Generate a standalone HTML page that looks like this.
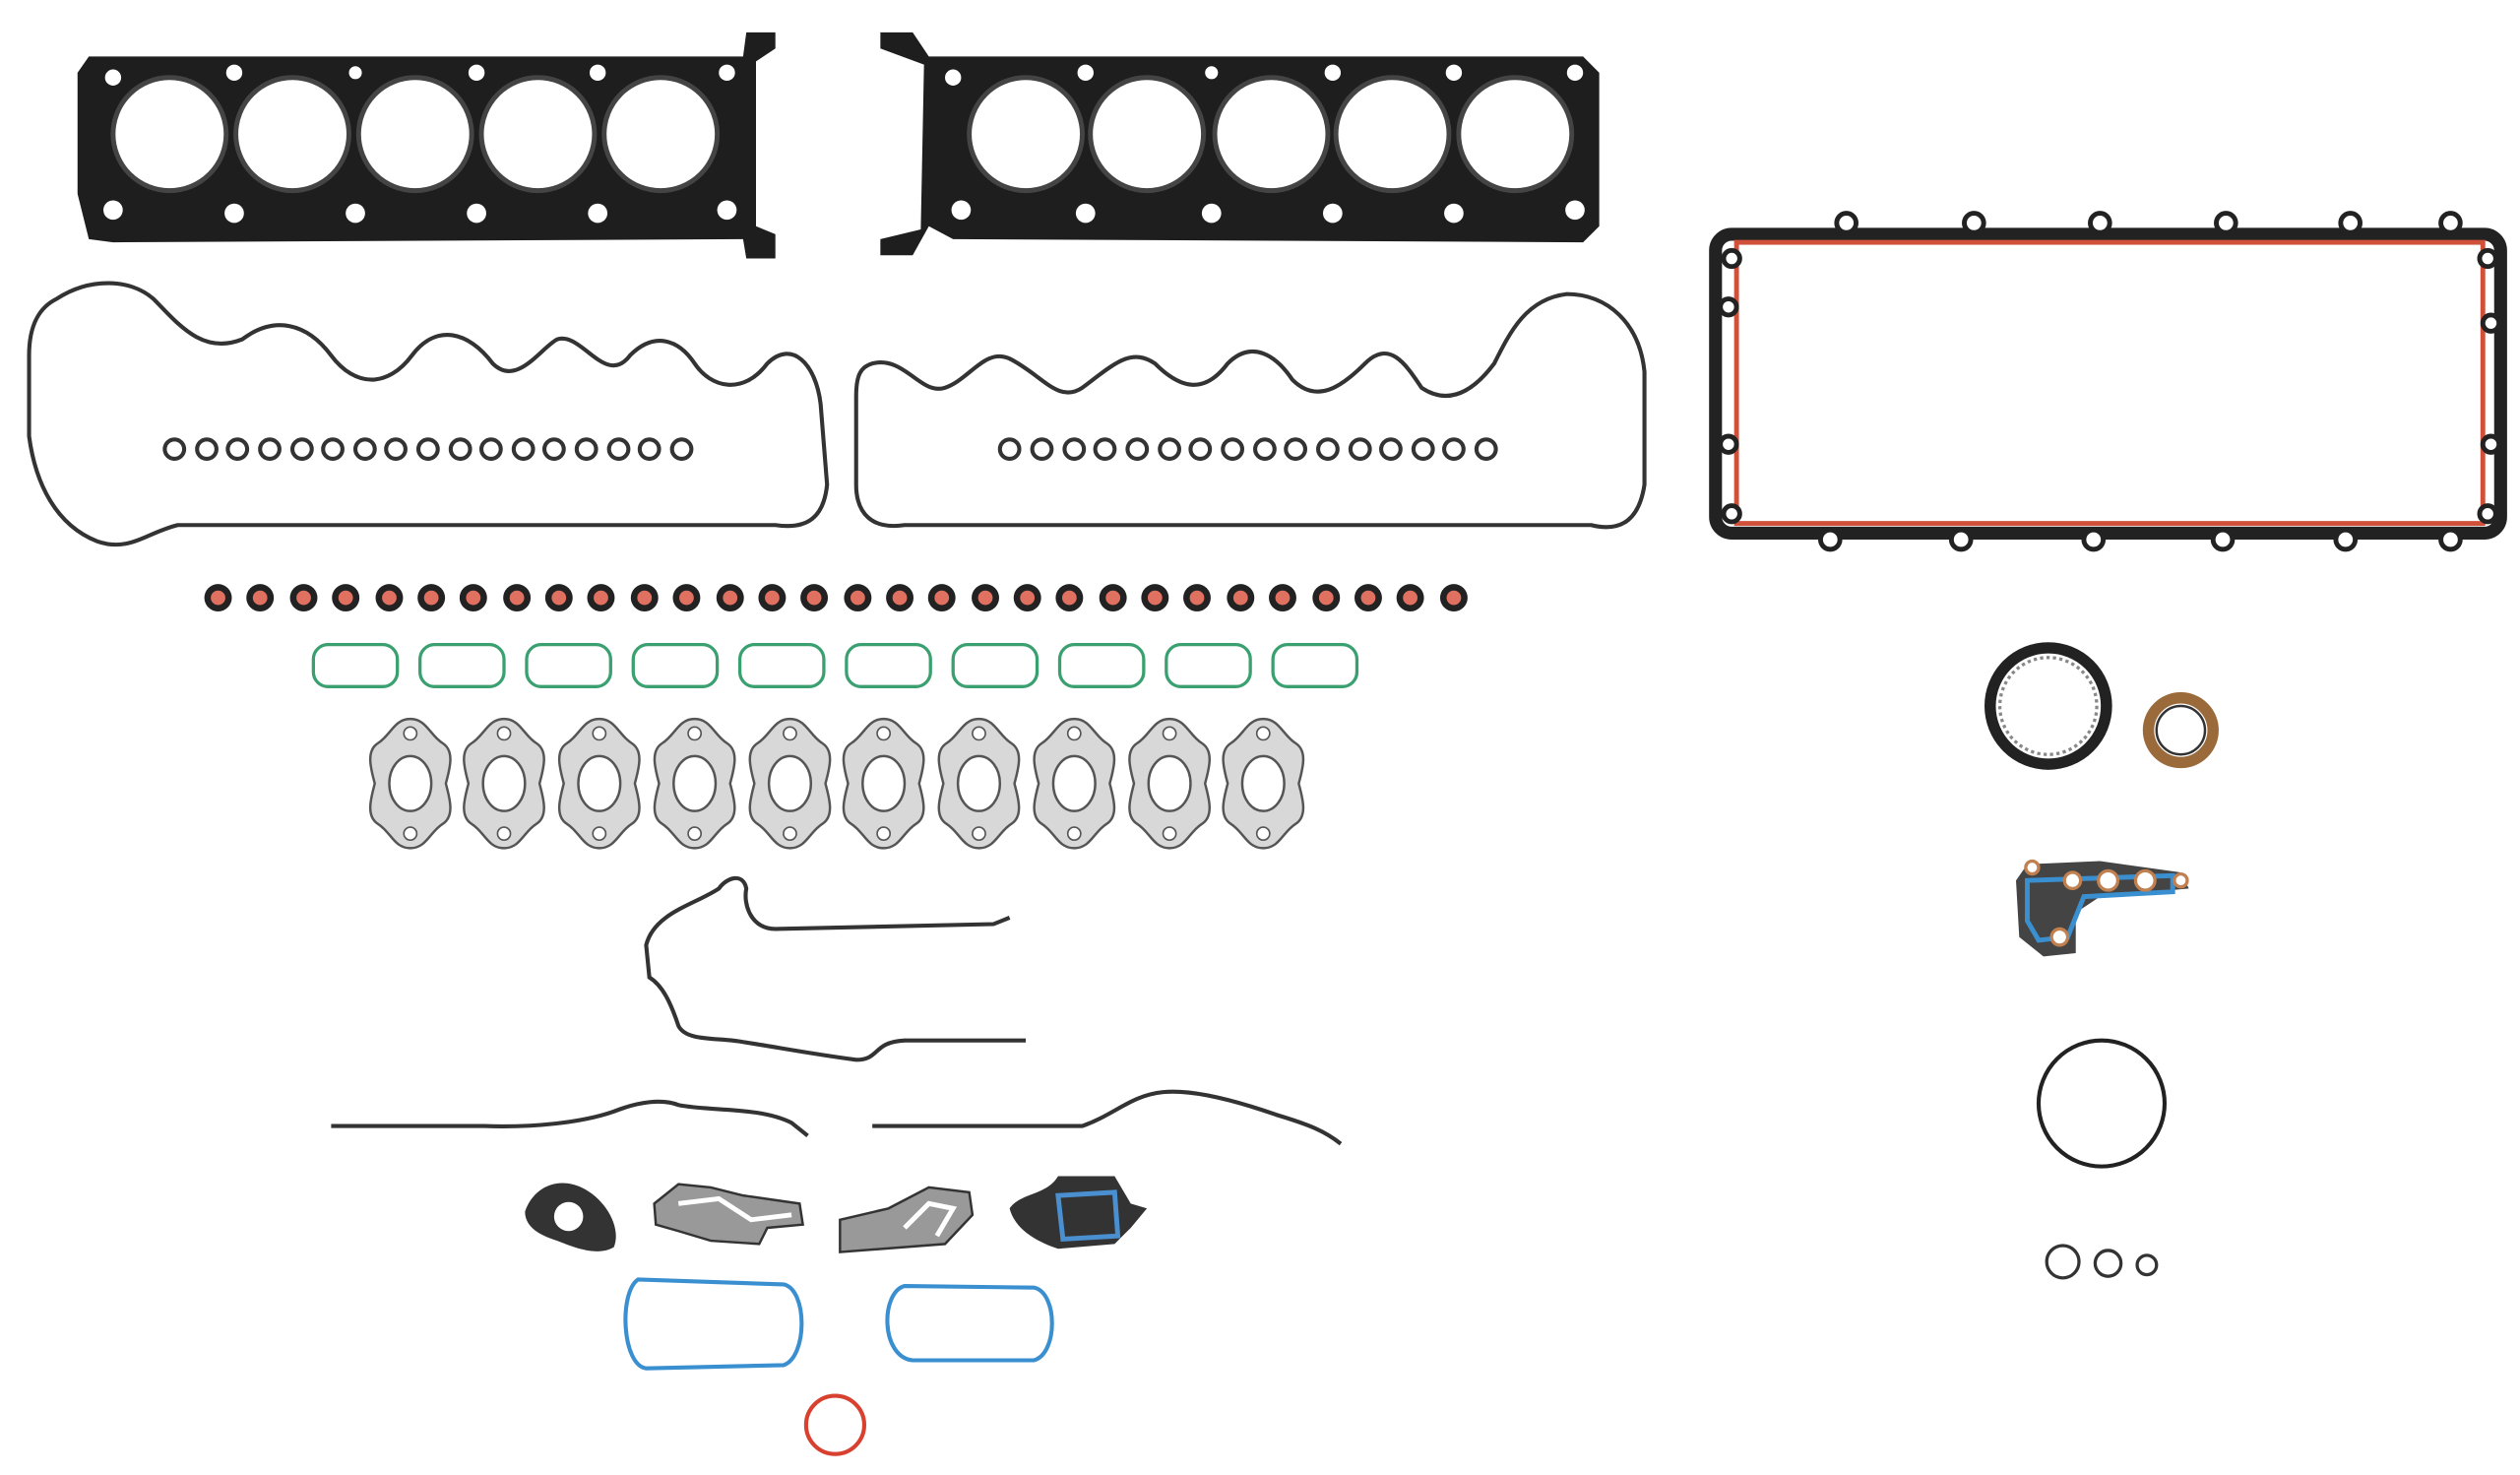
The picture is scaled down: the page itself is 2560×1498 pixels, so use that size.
<!DOCTYPE html>
<html><head><meta charset="utf-8"><style>
html,body{margin:0;padding:0;background:#fff;width:2560px;height:1498px;overflow:hidden}
svg{display:block}
</style></head><body>
<svg width="2560" height="1498" viewBox="0 0 1560 913" preserveAspectRatio="none" xmlns="http://www.w3.org/2000/svg">
<defs>
<g id="seal"><circle r="8.5" fill="#222"/><circle r="4.5" fill="#e07060"/></g>
<g id="vs"><circle r="6" fill="none" stroke="#333" stroke-width="2.5"/></g>
<g id="ig"><rect x="-26" y="-13" width="52" height="26" rx="9" fill="none" stroke="#3aa070" stroke-width="2"/></g>
<g id="ex"><path d="M0,-40 C10,-40 12,-30 20,-25 C28,-20 24,-8 22,0 C24,8 28,20 20,25 C12,30 10,40 0,40 C-10,40 -12,30 -20,25 C-28,20 -24,8 -22,0 C-24,-8 -28,-20 -20,-25 C-12,-30 -10,-40 0,-40Z" fill="#d8d8d8" stroke="#555" stroke-width="1.5"/><ellipse rx="13" ry="17" fill="#fff" stroke="#555" stroke-width="1.5"/><circle cy="-31" r="4" fill="#fff" stroke="#555"/><circle cy="31" r="4" fill="#fff" stroke="#555"/></g>
</defs>
<!-- head gasket left -->
<path d="M55,35 L460,35 L462,20 L480,20 L480,30 L468,38 L468,140 L480,145 L480,160 L462,160 L460,148 L70,150 L55,148 L48,120 L48,45Z" fill="#1e1e1e"/>
<g fill="#fff" stroke="#444" stroke-width="3">
<circle cx="105" cy="83" r="35"/><circle cx="181" cy="83" r="35"/><circle cx="257" cy="83" r="35"/><circle cx="333" cy="83" r="35"/><circle cx="409" cy="83" r="35"/>
</g>
<g fill="#fff"><circle cx="70" cy="48" r="5"/><circle cx="145" cy="45" r="5"/><circle cx="220" cy="45" r="4"/><circle cx="295" cy="45" r="5"/><circle cx="370" cy="45" r="5"/><circle cx="450" cy="45" r="5"/><circle cx="70" cy="130" r="6"/><circle cx="145" cy="132" r="6"/><circle cx="220" cy="132" r="6"/><circle cx="295" cy="132" r="6"/><circle cx="370" cy="132" r="6"/><circle cx="450" cy="130" r="6"/></g>
<!-- head gasket right -->
<path d="M545,20 L565,20 L575,35 L980,35 L990,45 L990,140 L980,150 L590,148 L575,140 L565,158 L545,158 L545,148 L570,142 L572,40 L545,30Z" fill="#1e1e1e"/>
<g fill="#fff" stroke="#444" stroke-width="3">
<circle cx="635" cy="83" r="35"/><circle cx="710" cy="83" r="35"/><circle cx="787" cy="83" r="35"/><circle cx="862" cy="83" r="35"/><circle cx="938" cy="83" r="35"/>
</g>
<g fill="#fff"><circle cx="590" cy="48" r="5"/><circle cx="672" cy="45" r="5"/><circle cx="750" cy="45" r="4"/><circle cx="825" cy="45" r="5"/><circle cx="900" cy="45" r="5"/><circle cx="975" cy="45" r="5"/><circle cx="595" cy="130" r="6"/><circle cx="672" cy="132" r="6"/><circle cx="750" cy="132" r="6"/><circle cx="825" cy="132" r="6"/><circle cx="900" cy="132" r="6"/><circle cx="975" cy="130" r="6"/></g>
<!-- valve cover gaskets -->
<path d="M35,185 C55,172 80,172 95,185 C110,200 125,220 150,210 C170,195 190,200 205,220 C220,240 240,240 255,220 C270,200 290,205 305,225 C320,240 335,215 345,210 C360,205 375,240 390,220 C405,205 420,210 430,225 C440,240 460,245 475,225 C490,210 505,225 508,250 L512,300 C510,320 500,328 480,325 L110,325 C90,330 80,342 60,335 C35,325 22,300 18,270 L18,220 C18,200 25,190 35,185Z" fill="none" stroke="#333" stroke-width="2.5"/>
<path d="M540,225 C560,220 570,245 585,240 C600,235 610,215 625,222 C645,232 655,250 670,240 C690,225 700,215 715,225 C730,240 745,245 760,225 C775,210 790,220 800,235 C815,250 830,240 845,225 C860,210 870,225 880,240 C895,250 910,245 925,225 C935,205 945,185 970,182 C995,182 1015,200 1018,230 L1018,300 C1015,320 1005,330 985,325 L560,325 C540,328 530,318 530,300 L530,245 C530,232 533,227 540,225Z" fill="none" stroke="#333" stroke-width="2.5"/>
<g>
<use href="#vs" x="108" y="278"/><use href="#vs" x="128" y="278"/><use href="#vs" x="147" y="278"/><use href="#vs" x="167" y="278"/><use href="#vs" x="187" y="278"/><use href="#vs" x="206" y="278"/><use href="#vs" x="226" y="278"/><use href="#vs" x="245" y="278"/><use href="#vs" x="265" y="278"/><use href="#vs" x="285" y="278"/><use href="#vs" x="304" y="278"/><use href="#vs" x="324" y="278"/><use href="#vs" x="343" y="278"/><use href="#vs" x="363" y="278"/><use href="#vs" x="383" y="278"/><use href="#vs" x="402" y="278"/><use href="#vs" x="422" y="278"/>
<use href="#vs" x="625" y="278"/><use href="#vs" x="645" y="278"/><use href="#vs" x="665" y="278"/><use href="#vs" x="684" y="278"/><use href="#vs" x="704" y="278"/><use href="#vs" x="724" y="278"/><use href="#vs" x="743" y="278"/><use href="#vs" x="763" y="278"/><use href="#vs" x="783" y="278"/><use href="#vs" x="802" y="278"/><use href="#vs" x="822" y="278"/><use href="#vs" x="842" y="278"/><use href="#vs" x="861" y="278"/><use href="#vs" x="881" y="278"/><use href="#vs" x="900" y="278"/><use href="#vs" x="920" y="278"/>
</g>
<!-- oil pan -->
<rect x="1062" y="145" width="486" height="185" rx="10" fill="none" stroke="#222" stroke-width="8"/>
<rect x="1075" y="150" width="462" height="174" fill="none" stroke="#d0503a" stroke-width="3"/>
<g fill="#fff" stroke="#222" stroke-width="3">
<circle cx="1143" cy="138" r="6"/><circle cx="1222" cy="138" r="6"/><circle cx="1300" cy="138" r="6"/><circle cx="1378" cy="138" r="6"/><circle cx="1455" cy="138" r="6"/><circle cx="1517" cy="138" r="6"/>
<circle cx="1133" cy="334" r="6"/><circle cx="1214" cy="334" r="6"/><circle cx="1296" cy="334" r="6"/><circle cx="1376" cy="334" r="6"/><circle cx="1452" cy="334" r="6"/><circle cx="1517" cy="334" r="6"/>
<circle cx="1072" cy="160" r="5"/><circle cx="1070" cy="190" r="5"/><circle cx="1070" cy="275" r="5"/><circle cx="1072" cy="318" r="5"/><circle cx="1540" cy="160" r="5"/><circle cx="1542" cy="200" r="5"/><circle cx="1542" cy="275" r="5"/><circle cx="1540" cy="318" r="5"/>
</g>
<!-- seals row -->
<g>
<use href="#seal" x="135" y="370"/><use href="#seal" x="161" y="370"/><use href="#seal" x="188" y="370"/><use href="#seal" x="214" y="370"/><use href="#seal" x="241" y="370"/><use href="#seal" x="267" y="370"/><use href="#seal" x="293" y="370"/><use href="#seal" x="320" y="370"/><use href="#seal" x="346" y="370"/><use href="#seal" x="372" y="370"/><use href="#seal" x="399" y="370"/><use href="#seal" x="425" y="370"/><use href="#seal" x="452" y="370"/><use href="#seal" x="478" y="370"/><use href="#seal" x="504" y="370"/><use href="#seal" x="531" y="370"/><use href="#seal" x="557" y="370"/><use href="#seal" x="583" y="370"/><use href="#seal" x="610" y="370"/><use href="#seal" x="636" y="370"/><use href="#seal" x="662" y="370"/><use href="#seal" x="689" y="370"/><use href="#seal" x="715" y="370"/><use href="#seal" x="741" y="370"/><use href="#seal" x="768" y="370"/><use href="#seal" x="794" y="370"/><use href="#seal" x="821" y="370"/><use href="#seal" x="847" y="370"/><use href="#seal" x="873" y="370"/><use href="#seal" x="900" y="370"/>
</g>
<!-- intake gaskets -->
<g><use href="#ig" x="220" y="412"/><use href="#ig" x="286" y="412"/><use href="#ig" x="352" y="412"/><use href="#ig" x="418" y="412"/><use href="#ig" x="484" y="412"/><use href="#ig" x="550" y="412"/><use href="#ig" x="616" y="412"/><use href="#ig" x="682" y="412"/><use href="#ig" x="748" y="412"/><use href="#ig" x="814" y="412"/></g>
<!-- exhaust -->
<g><use href="#ex" x="254" y="485"/><use href="#ex" x="312" y="485"/><use href="#ex" x="371" y="485"/><use href="#ex" x="430" y="485"/><use href="#ex" x="489" y="485"/><use href="#ex" x="547" y="485"/><use href="#ex" x="606" y="485"/><use href="#ex" x="665" y="485"/><use href="#ex" x="724" y="485"/><use href="#ex" x="782" y="485"/></g>
<!-- timing cover -->
<path d="M625,568 L615,572 L480,575 C465,575 460,560 462,550 C460,540 450,543 445,550 C430,560 405,565 400,585 L402,605 C410,610 415,620 420,635 C425,645 445,642 460,645 C480,648 500,652 530,656 C545,656 540,645 560,644 L635,644" fill="none" stroke="#333" stroke-width="2.5"/>
<path d="M205,697 L300,697 C330,698 360,695 380,688 C395,682 410,680 420,684 C440,688 470,685 490,695 L500,703" fill="none" stroke="#333" stroke-width="2.5"/>
<path d="M540,697 L670,697 C690,690 700,678 720,676 C740,674 770,683 790,690 C810,696 820,700 830,708" fill="none" stroke="#333" stroke-width="2.5"/>
<!-- small gaskets row -->
<path d="M325,750 C330,735 345,728 360,735 C375,742 385,760 380,772 C370,778 355,772 345,768 C335,765 325,760 325,750Z" fill="#333"/><circle cx="352" cy="753" r="9" fill="#fff"/>
<path d="M405,745 L420,733 L440,735 L460,740 L495,745 L497,758 L475,760 L470,770 L440,768 L420,762 L406,758Z" fill="#999" stroke="#333" stroke-width="1.5"/>
<path d="M420,745 L445,742 L465,755 L490,752" fill="none" stroke="#fff" stroke-width="3"/>
<path d="M520,755 L550,748 L575,735 L600,738 L602,752 L585,770 L520,775Z" fill="#999" stroke="#333" stroke-width="1.5"/>
<path d="M560,760 L575,745 L590,748 L580,765" fill="none" stroke="#fff" stroke-width="3"/>
<path d="M625,748 C632,738 648,740 655,728 L690,728 L700,745 L710,748 L700,760 L690,770 L655,773 C640,768 628,760 625,748Z" fill="#333"/>
<path d="M655,740 L690,738 L692,765 L658,767Z" fill="none" stroke="#4a8fd0" stroke-width="3"/>
<!-- blue intake loops -->
<path d="M395,792 L485,795 C500,798 500,840 485,845 L400,847 C385,845 383,800 395,792Z" fill="none" stroke="#3a8fd0" stroke-width="2.5"/>
<path d="M560,796 L640,797 C655,800 655,838 640,842 L565,842 C545,840 545,800 560,796Z" fill="none" stroke="#3a8fd0" stroke-width="2.5"/>
<circle cx="517" cy="882" r="18" fill="none" stroke="#d84030" stroke-width="2.5"/>
<!-- right side parts -->
<circle cx="1268" cy="437" r="36" fill="none" stroke="#222" stroke-width="7"/>
<circle cx="1268" cy="437" r="30" fill="none" stroke="#888" stroke-width="2" stroke-dasharray="2 2"/>
<circle cx="1350" cy="452" r="20" fill="none" stroke="#9a6a3a" stroke-width="7"/>
<circle cx="1350" cy="452" r="15" fill="none" stroke="#333" stroke-width="1.5"/>
<path d="M1255,535 L1300,533 L1350,540 L1355,550 L1300,555 L1285,565 L1285,590 L1265,592 L1250,580 L1248,545Z" fill="#444"/>
<path d="M1255,545 L1345,542 L1345,552 L1290,555 L1280,580 L1262,582 L1255,570Z" fill="none" stroke="#3a8fd0" stroke-width="3"/>
<g fill="#fff" stroke="#c08050" stroke-width="2"><circle cx="1283" cy="545" r="5"/><circle cx="1305" cy="545" r="6"/><circle cx="1328" cy="545" r="6"/><circle cx="1275" cy="580" r="5"/><circle cx="1258" cy="537" r="4"/><circle cx="1350" cy="545" r="4"/></g>
<circle cx="1301" cy="683" r="39" fill="none" stroke="#222" stroke-width="2.5"/>
<circle cx="1277" cy="781" r="10" fill="none" stroke="#333" stroke-width="2"/>
<circle cx="1305" cy="782" r="8" fill="none" stroke="#333" stroke-width="2"/>
<circle cx="1329" cy="783" r="6" fill="none" stroke="#333" stroke-width="2"/>
</svg>
</body></html>
